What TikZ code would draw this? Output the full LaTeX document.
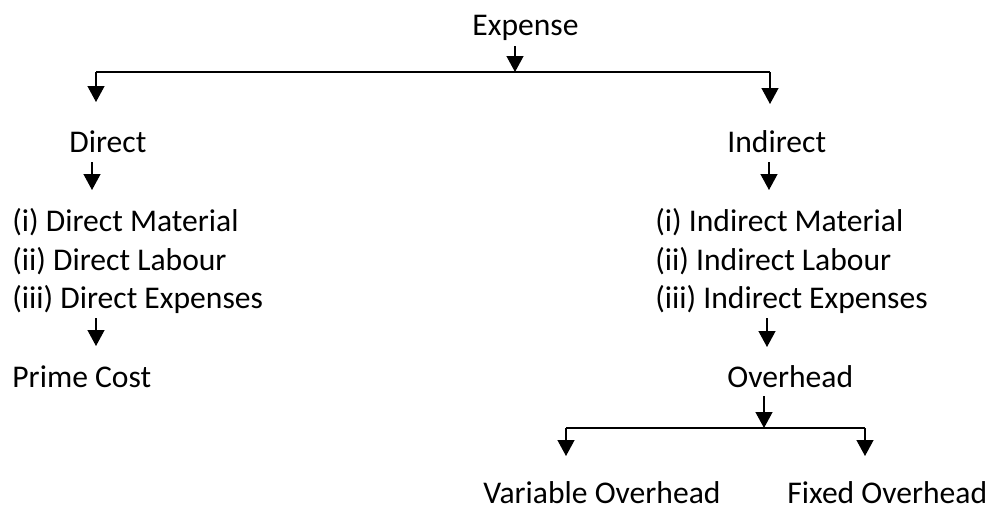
\documentclass[tikz,border=0pt]{standalone}
\usepackage{fontspec}
\setmainfont{Carlito}
\usepackage{tikz}
\usetikzlibrary{arrows.meta, positioning}

\begin{document}
\begin{tikzpicture}[
  x=0.5pt, y=-0.5pt,
  lbl/.style={anchor=base west, inner sep=0pt, font=\fontsize{15.8}{18}\selectfont},
  bar/.style={line width=0.65pt},
  arr/.style={-{Triangle[width=8.5pt,length=8pt]}, line width=0.65pt},
]
  \useasboundingbox (0,0) rectangle (991,509);

  % labels
  \node[lbl] (expense)  at (472,35)  {Expense};
  \node[lbl] (direct)   at (69,152)  {Direct};
  \node[lbl] (indirect) at (727,152) {Indirect};
  \node[lbl] (dmat) at (12,231) {(i) Direct Material};
  \node[lbl] (dlab) at (12,270) {(ii) Direct Labour};
  \node[lbl] (dexp) at (12,308) {(iii) Direct Expenses};
  \node[lbl] (imat) at (655,231) {(i) Indirect Material};
  \node[lbl] (ilab) at (655,270) {(ii) Indirect Labour};
  \node[lbl] (iexp) at (655,308) {(iii) Indirect Expenses};
  \node[lbl] (prime)    at (12,387)  {Prime Cost};
  \node[lbl] (overhead) at (727,387) {Overhead};
  \node[lbl] (variable) at (483,503) {Variable Overhead};
  \node[lbl] (fixed)    at (787,503) {Fixed Overhead};

  % arrow ends
  \coordinate (exp-s)  at (515,46);
  \coordinate (top-m)  at (515,72);
  \coordinate (top-l)  at (96,72);
  \coordinate (top-r)  at (770,72);
  \coordinate (dir-in) at (96,102);
  \coordinate (ind-in) at (770,104);
  \coordinate (dir-s)  at (92,162);
  \coordinate (dir-e)  at (92,190);
  \coordinate (ind-s)  at (769,162);
  \coordinate (ind-e)  at (769,190);
  \coordinate (dexp-s) at (96,318);
  \coordinate (dexp-e) at (96,346);
  \coordinate (iexp-s) at (767,318);
  \coordinate (iexp-e) at (767,347);
  \coordinate (ovh-s)  at (764,396);
  \coordinate (low-m)  at (764,428);
  \coordinate (low-l)  at (566,428);
  \coordinate (low-r)  at (865,428);
  \coordinate (var-in) at (566,456);
  \coordinate (fix-in) at (865,456);

  % top split
  \draw[bar] (top-l) -- (top-r);
  \draw[arr] (exp-s) -- (top-m);
  \draw[arr] (top-l) -- (dir-in);
  \draw[arr] (top-r) -- (ind-in);

  % down the two sides
  \draw[arr] (dir-s)  -- (dir-e);
  \draw[arr] (ind-s)  -- (ind-e);
  \draw[arr] (dexp-s) -- (dexp-e);
  \draw[arr] (iexp-s) -- (iexp-e);

  % overhead split
  \draw[bar] (low-l) -- (low-r);
  \draw[arr] (ovh-s) -- (low-m);
  \draw[arr] (low-l) -- (var-in);
  \draw[arr] (low-r) -- (fix-in);
\end{tikzpicture}
\end{document}
